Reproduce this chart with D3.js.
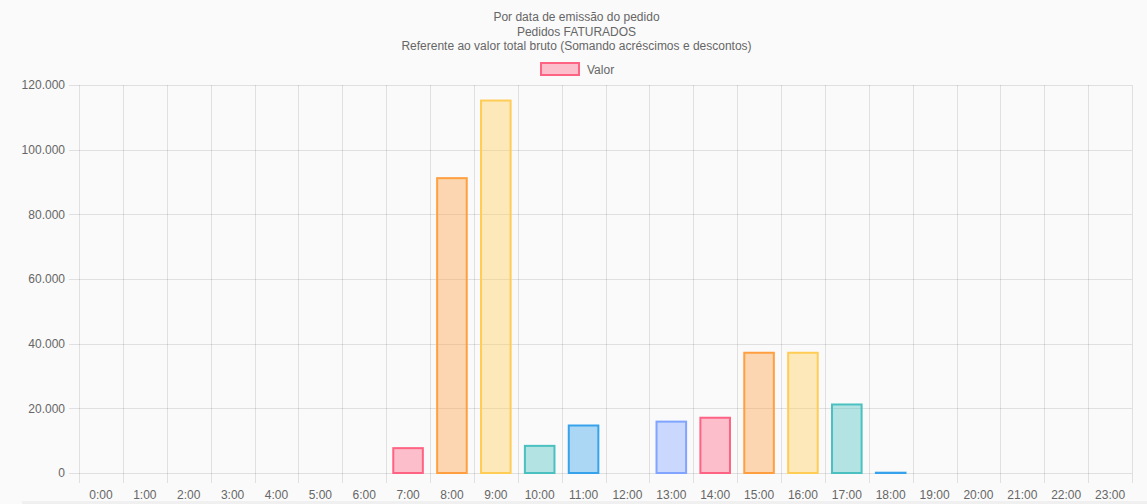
<!DOCTYPE html>
<meta charset="utf-8">
<style>
body { margin: 0; background: #fafafa; }
svg { display: block; font-family: "Liberation Sans", Arial, sans-serif; }
.grid line { stroke: rgba(0,0,0,0.1); shape-rendering: crispEdges; }
.grid path { stroke-width: 0; }
.axis text { fill: #666; font-size: 12px; }
.axis path { stroke: none; }
.axis line { stroke: rgba(0,0,0,0.1); shape-rendering: crispEdges; }
</style>
<body>
<script src="https://d3js.org/d3.v7.min.js"></script>
<script>

// data
var hours = ["0:00","1:00","2:00","3:00","4:00","5:00","6:00","7:00","8:00","9:00","10:00","11:00",
             "12:00","13:00","14:00","15:00","16:00","17:00","18:00","19:00","20:00","21:00","22:00","23:00"];
var valores = [0,0,0,0,0,0,0,8000,91500,115500,8700,15000,0,16200,17400,37500,37500,21500,400,0,0,0,0,0];
var yTicks = [0,20000,40000,60000,80000,100000,120000];
var titleLines = ["Por data de emissão do pedido", "Pedidos FATURADOS",
                  "Referente ao valor total bruto (Somando acréscimos e descontos)"];

// colour cycle (border colours), fills are the same at 0.4 alpha
var palette = ["rgb(255,99,132)","rgb(255,159,64)","rgb(255,205,86)","rgb(75,192,192)",
               "rgb(54,162,235)","rgb(153,102,255)","rgb(128,164,255)"];

var W = 1147, H = 504;
var margin = {top: 85, right: 15, bottom: 31, left: 79},
    width = W - margin.left - margin.right,
    height = H - margin.top - margin.bottom;

var svg = d3.select("body").append("svg")
    .attr("width", W)
    .attr("height", H);

// light strip at the bottom
svg.append("rect")
    .attr("x", 22).attr("y", 501).attr("width", W - 22).attr("height", 3)
    .attr("fill", "#f0f0f0");

var g = svg.append("g")
    .attr("transform", "translate(" + margin.left + "," + margin.top + ")");

var x = d3.scaleBand().domain(hours).range([0, width]).paddingInner(0).paddingOuter(0);
var y = d3.scaleLinear().domain([0, 120000]).range([height, 0]);

var fmt = function(d) { return d3.format(",")(d).replace(/,/g, "."); };

// horizontal grid
g.append("g")
    .attr("class", "grid")
    .call(d3.axisLeft(y).tickValues(yTicks).tickSize(-width).tickFormat(""));

// vertical grid (category borders)
var xEdges = d3.range(hours.length + 1).map(function(i) { return i * x.bandwidth(); });
g.append("g")
    .attr("class", "grid")
    .selectAll("line")
    .data(xEdges)
    .join("line")
    .attr("x1", function(d) { return Math.round(d) + 0.5; })
    .attr("x2", function(d) { return Math.round(d) + 0.5; })
    .attr("y1", 0)
    .attr("y2", height + 10);

// y axis
g.append("g")
    .attr("class", "axis")
    .call(d3.axisLeft(y).tickValues(yTicks).tickSize(10).tickPadding(4).tickFormat(fmt))
    .call(function(s) { s.selectAll("line").attr("x2", -10).attr("x1", 0); });

// x axis labels
g.append("g")
    .attr("class", "axis")
    .attr("transform", "translate(0," + height + ")")
    .call(d3.axisBottom(x).tickSize(0).tickPadding(17));

// bars
var bw = x.bandwidth() * 0.8 * 0.9;
g.selectAll(".bar")
    .data(valores)
    .join("rect")
    .attr("class", "bar")
    .attr("x", function(d, i) { return x(hours[i]) + (x.bandwidth() - bw) / 2 + 1; })
    .attr("width", bw - 2)
    .attr("y", function(d) { return y(d) + 1; })
    .attr("height", function(d) { return Math.max(0, y(0) - y(d) - 1); })
    .attr("fill", function(d, i) { return d3.color(palette[i % 7]).copy({opacity: 0.4}); })
    .attr("stroke", function(d, i) { return palette[i % 7]; })
    .attr("stroke-width", 2)
    .style("display", function(d) { return d > 0 ? null : "none"; });

// title
svg.append("g").selectAll("text")
    .data(titleLines)
    .join("text")
    .attr("x", W / 2 + 3)
    .attr("y", function(d, i) { return 21 + i * 14.5; })
    .attr("text-anchor", "middle")
    .style("font-size", "12px")
    .style("fill", "#666")
    .text(function(d) { return d; });

// legend
svg.append("rect")
    .attr("x", 541).attr("y", 63).attr("width", 38).attr("height", 12)
    .attr("fill", d3.color(palette[0]).copy({opacity: 0.4}))
    .attr("stroke", palette[0]).attr("stroke-width", 2);
svg.append("text")
    .attr("x", 587).attr("y", 73.5)
    .style("font-size", "12px")
    .style("fill", "#666")
    .text("Valor");

</script>
</body>
